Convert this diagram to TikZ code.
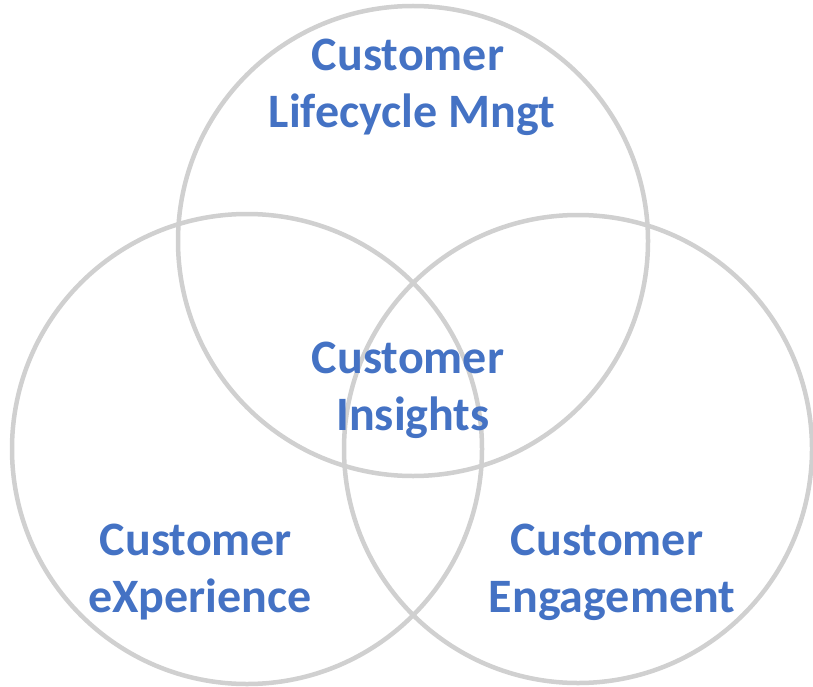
\documentclass[tikz,border=0pt]{standalone}
\usepackage{fontspec}
\setmainfont{Carlito}
\definecolor{ringgray}{HTML}{D0D0D0}
\definecolor{txtblue}{HTML}{4472C4}
\begin{document}
\begin{tikzpicture}[x=1pt,y=-1pt,
  ring/.style={draw=ringgray,line width=4.5pt},
  lbl/.style={anchor=base,inner sep=0pt,text=txtblue,font=\fontsize{48}{57}\selectfont\bfseries}]
\useasboundingbox (0,0) rectangle (813,687);
\draw[ring] (413,241) circle (235);
\draw[ring] (247,449) circle (235);
\draw[ring] (578,449) circle (234);
\node[lbl] (t1) at (408,71) {Customer};
\node[lbl] (t2) at (412,128) {Lifecycle Mngt};
\node[lbl] (c1) at (408,373) {Customer};
\node[lbl] (c2) at (413,430) {Insights};
\node[lbl] (l1) at (196,555) {Customer};
\node[lbl] (l2) at (200,612) {eXperience};
\node[lbl] (r1) at (607,555) {Customer};
\node[lbl] (r2) at (612,612) {Engagement};
\end{tikzpicture}
\end{document}
